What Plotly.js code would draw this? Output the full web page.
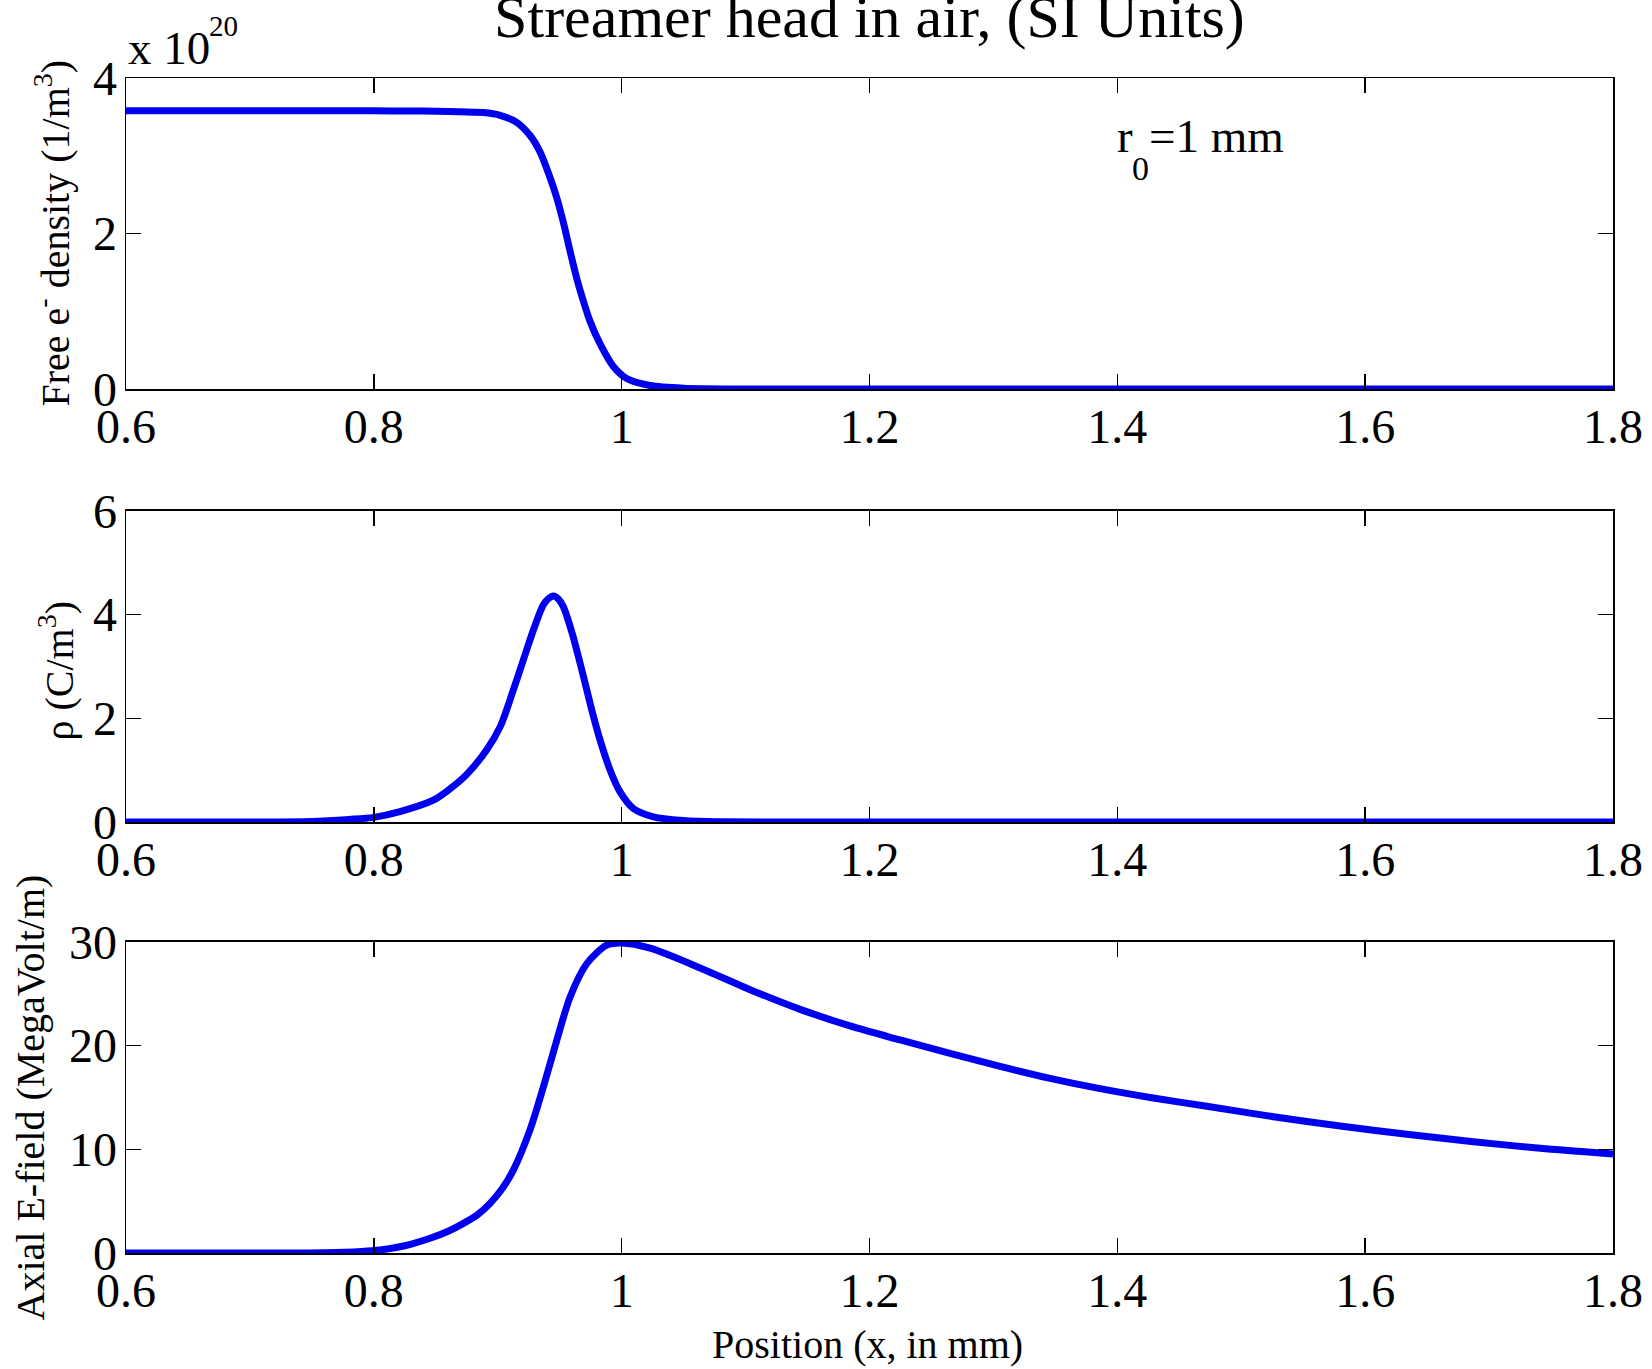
<!DOCTYPE html>
<html>
<head>
<meta charset="utf-8">
<script src="https://cdn.plot.ly/plotly-3.0.1.min.js"></script>
<style>
  html, body { margin: 0; padding: 0; background: #ffffff; }
  #chart { width: 1652px; height: 1369px; }
</style>
</head>
<body>
<div id="chart"></div>
<script>
// ---------- data ----------
// Panel 1: free electron density, in units of 1e20 m^-3
const xNe = [0.60, 0.70, 0.80, 0.84, 0.8615, 0.8884, 0.9019, 0.9153, 0.9261, 0.9341, 0.9422, 0.9476, 0.9530, 0.9584, 0.9638, 0.9691, 0.9745, 0.9826, 0.9933, 1.0041, 1.0229, 1.0498, 1.10, 1.20, 1.40, 1.60, 1.80];
const ne  = [3.58, 3.58, 3.578, 3.574, 3.568, 3.555, 3.52, 3.43, 3.26, 3.05, 2.72, 2.46, 2.14, 1.77, 1.42, 1.13, 0.87, 0.58, 0.29, 0.135, 0.045, 0.01, 0, 0, 0, 0, 0];

// Panel 2: charge density rho (C/m^3)
const xRho = [0.60, 0.70, 0.75, 0.78, 0.80, 0.8211, 0.848, 0.862, 0.875, 0.891, 0.902, 0.9126, 0.9207, 0.9287, 0.9368, 0.9409, 0.9449, 0.9489, 0.953, 0.9597, 0.9651, 0.9705, 0.9759, 0.9826, 0.9907, 0.9987, 1.0094, 1.0256, 1.0498, 1.08, 1.20, 1.40, 1.60, 1.80];
const rho  = [0, 0, 0.01, 0.05, 0.09, 0.20, 0.42, 0.65, 0.92, 1.39, 1.84, 2.55, 3.13, 3.70, 4.19, 4.31, 4.36, 4.30, 4.15, 3.67, 3.19, 2.68, 2.16, 1.58, 1.00, 0.58, 0.26, 0.10, 0.03, 0.005, 0, 0, 0, 0];

// Panel 3: axial electric field (MV/m)
const xE = [0.60, 0.70, 0.76, 0.79, 0.805, 0.825, 0.8454, 0.86, 0.8723, 0.8838, 0.8938, 0.9035, 0.9126, 0.9261, 0.9368, 0.9476, 0.9584, 0.9718, 0.988, 1.0, 1.0229, 1.0633, 1.1036, 1.144, 1.1843, 1.2247, 1.265, 1.3054, 1.3458, 1.3861, 1.4265, 1.4722, 1.526, 1.5798, 1.6336, 1.6874, 1.7412, 1.80];
const eField = [0, 0, 0.03, 0.15, 0.29, 0.7, 1.42, 2.1, 2.86, 3.7, 4.79, 6.2, 8.0, 11.9, 16.0, 20.5, 24.7, 27.9, 29.7, 29.9, 29.4, 27.5, 25.4, 23.5, 21.9, 20.55, 19.25, 18.0, 16.85, 15.85, 15.0, 14.15, 13.15, 12.25, 11.45, 10.74, 10.1, 9.55];

// Tick labels
const xTickVals = [0.6, 0.8, 1.0, 1.2, 1.4, 1.6, 1.8];
const xTickText = ["0.6", "0.8", "1", "1.2", "1.4", "1.6", "1.8"];
const yTicks1 = [0, 2, 4];
const yTicks2 = [0, 2, 4, 6];
const yTicks3 = [0, 10, 20, 30];

// Texts
const titleText = "Streamer head in air, (SI Units)";
const xTitleText = "Position (x, in mm)";
const yTitle1 = "Free e<sup>-</sup> density (1/m<sup>3</sup>)";
const yTitle2 = "ρ (C/m<sup>3</sup>)";
const yTitle3 = "Axial E-field (MegaVolt/m)";

// ---------- styling ----------
const FONT = "Liberation Serif, 'Times New Roman', Times, serif";
const BLUE = "#0000ee";
const lineStyle = {color: BLUE, width: 7, shape: "spline", smoothing: 0.8};
const TICKSIZE = 48;

const traces = [
  {x: xNe, y: ne, type: "scatter", mode: "lines", line: lineStyle, xaxis: "x", yaxis: "y", hoverinfo: "x+y"},
  {x: xRho, y: rho, type: "scatter", mode: "lines", line: lineStyle, xaxis: "x2", yaxis: "y2", hoverinfo: "x+y"},
  {x: xE, y: eField, type: "scatter", mode: "lines", line: lineStyle, xaxis: "x3", yaxis: "y3", hoverinfo: "x+y"}
];

function xAx(anchor) {
  return {
    anchor: anchor, domain: [0, 1], range: [0.6, 1.8],
    tickmode: "array", tickvals: xTickVals, ticktext: xTickText,
    ticks: "inside", ticklen: 15, tickwidth: 1.5, tickcolor: "#000",
    showline: true, linecolor: "#000", linewidth: 1.5, mirror: "ticks",
    showgrid: false, zeroline: false,
    tickfont: {family: FONT, size: TICKSIZE, color: "#000"},
    ticklabelstandoff: -5
  };
}
function yAx(anchor, domain, range, ticks) {
  return {
    anchor: anchor, domain: domain, range: range,
    tickmode: "array", tickvals: ticks, ticktext: ticks.map(String),
    ticks: "inside", ticklen: 15, tickwidth: 1.5, tickcolor: "#000",
    showline: true, linecolor: "#000", linewidth: 1.5, mirror: "ticks",
    showgrid: false, zeroline: false,
    tickfont: {family: FONT, size: TICKSIZE, color: "#000"},
    ticklabelstandoff: -2
  };
}

const dom1 = [0.7353, 1.0];
const dom2 = [0.3668, 0.6315];
const dom3 = [0.0, 0.2647];

const layout = {
  width: 1652, height: 1369,
  margin: {l: 126, r: 39, t: 78, b: 116, pad: 0},
  paper_bgcolor: "#ffffff", plot_bgcolor: "#ffffff",
  font: {family: FONT, color: "#000"},
  showlegend: false,
  title: {text: titleText, font: {family: FONT, size: 60, color: "#000"},
          x: 0.5263, xref: "container", xanchor: "center",
          y: 0.9883, yref: "container", yanchor: "middle"},
  xaxis: xAx("y"), xaxis2: xAx("y2"), xaxis3: xAx("y3"),
  yaxis: yAx("x", dom1, [0, 4], yTicks1),
  yaxis2: yAx("x2", dom2, [0, 6], yTicks2),
  yaxis3: yAx("x3", dom3, [0, 30], yTicks3),
  annotations: [
    // multiplier "x 10^20"
    {text: "x 10", xref: "paper", yref: "paper", x: 0, y: 1, xanchor: "left", yanchor: "middle",
     xshift: 0, yshift: 30, showarrow: false, font: {family: FONT, size: 47, color: "#000"}},
    {text: "20", xref: "paper", yref: "paper", x: 0, y: 1, xanchor: "left", yanchor: "middle",
     xshift: 81, yshift: 52, showarrow: false, font: {family: FONT, size: 29, color: "#000"}},
    // r0 = 1 mm
    {text: "r", xref: "paper", yref: "paper", x: 0, y: 1, xanchor: "left", yanchor: "middle",
     xshift: 989, yshift: -58, showarrow: false, font: {family: FONT, size: 47, color: "#000"}},
    {text: "0", xref: "paper", yref: "paper", x: 0, y: 1, xanchor: "left", yanchor: "middle",
     xshift: 1004, yshift: -90, showarrow: false, font: {family: FONT, size: 34, color: "#000"}},
    {text: "=1 mm", xref: "paper", yref: "paper", x: 0, y: 1, xanchor: "left", yanchor: "middle",
     xshift: 1021, yshift: -58, showarrow: false, font: {family: FONT, size: 47, color: "#000"}},
    // axis titles
    {text: yTitle1, xref: "paper", yref: "paper", x: 0, y: (dom1[0] + dom1[1]) / 2, xanchor: "center", yanchor: "middle",
     xshift: -73, textangle: -90, showarrow: false, font: {family: FONT, size: 40, color: "#000"}},
    {text: yTitle2, xref: "paper", yref: "paper", x: 0, y: (dom2[0] + dom2[1]) / 2, xanchor: "center", yanchor: "middle",
     xshift: -69, yshift: -4, textangle: -90, showarrow: false, font: {family: FONT, size: 40, color: "#000"}},
    {text: yTitle3, xref: "paper", yref: "paper", x: 0, y: (dom3[0] + dom3[1]) / 2, xanchor: "center", yanchor: "middle",
     xshift: -96, textangle: -90, showarrow: false, font: {family: FONT, size: 40, color: "#000"}},
    {text: xTitleText, xref: "paper", yref: "paper", x: 0.5, y: 0, xanchor: "center", yanchor: "middle",
     xshift: -2, yshift: -91, showarrow: false, font: {family: FONT, size: 40, color: "#000"}}
  ]
};

Plotly.newPlot("chart", traces, layout, {staticPlot: true, displayModeBar: false});
</script>
</body>
</html>
